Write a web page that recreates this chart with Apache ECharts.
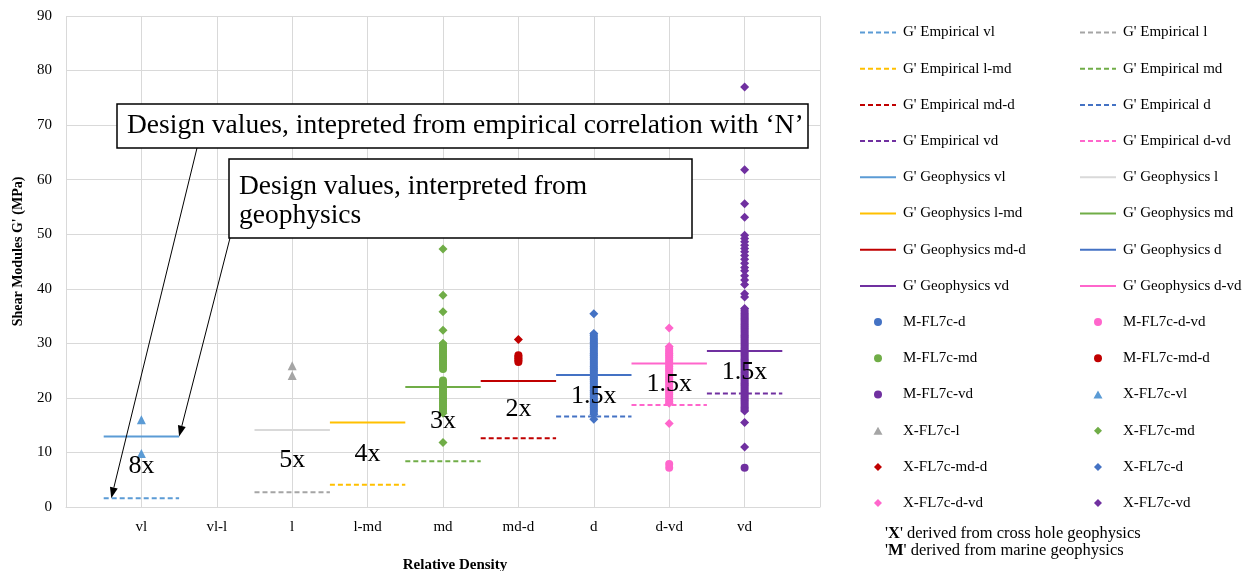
<!DOCTYPE html>
<html>
<head>
<meta charset="utf-8">
<script src="https://cdn.jsdelivr.net/npm/echarts@6/dist/echarts.min.js"></script>
<style>html,body{margin:0;padding:0;background:#fff;}#main{width:1248px;height:571px;}</style>
</head>
<body>
<div id="main"></div>
<script>
// ---------- data ----------
const cats = ['vl', 'vl-l', 'l', 'l-md', 'md', 'md-d', 'd', 'd-vd', 'vd'];
const designCats = ['vl', 'l', 'l-md', 'md', 'md-d', 'd', 'vd', 'd-vd'];
const empiricalVals = [1.6, 2.7, 4.1, 8.4, 12.6, 16.6, 20.8, 18.7];
const geophysicsVals = [12.9, 14.1, 15.5, 22.0, 23.1, 24.2, 28.6, 26.3];

const mFL7c_d = [17.4, 17.8, 18.2, 18.6, 19.0, 19.4, 19.8, 20.2, 20.6, 21.0, 21.4, 21.8, 22.2, 22.6, 23.0, 23.4, 23.8, 24.2, 24.6, 25.0, 25.4, 25.8, 26.2, 26.6, 27.0, 27.4, 27.8, 28.2, 28.6, 29.0, 29.4, 29.8, 30.2, 30.6, 31.0, 31.5];
const mFL7c_dvd = [7.2, 7.9, 19.4, 19.8, 20.2, 20.6, 21.0, 21.4, 21.8, 22.2, 22.6, 23.0, 23.4, 23.8, 24.2, 24.6, 25.0, 25.4, 25.8, 26.2, 26.6, 27.0, 27.4, 27.8, 28.2, 28.6, 29.0];
const mFL7c_md = [17.6, 18.0, 18.4, 18.8, 19.2, 19.6, 20.0, 20.4, 20.8, 21.2, 21.6, 22.0, 22.4, 22.8, 23.2, 25.3, 25.7, 26.1, 26.5, 26.9, 27.3, 27.7, 28.1, 28.5, 28.9, 29.3, 29.7];
const mFL7c_mdd = [26.6, 26.9, 27.2, 27.5, 27.8];
const mFL7c_vd = [7.2, 17.9, 18.3, 18.7, 19.1, 19.5, 19.9, 20.3, 20.7, 21.1, 21.5, 21.9, 22.3, 22.7, 23.1, 23.5, 23.9, 24.3, 24.7, 25.1, 25.5, 25.9, 26.3, 26.7, 27.1, 27.5, 27.9, 28.3, 28.7, 29.1, 29.5, 29.9, 30.3, 30.7, 31.1, 31.5, 31.9, 32.3, 32.7, 33.1, 33.5, 33.9, 34.3, 34.7, 35.1, 35.5, 36.0];
const xFL7c_vl = [16.0, 9.8];
const xFL7c_l = [25.9, 24.1];
const xFL7c_md = [47.3, 38.8, 35.8, 32.4, 30.0, 17.2, 11.8];
const xFL7c_mdd = [30.7];
const xFL7c_d = [35.4, 31.8, 17.0, 16.1];
const xFL7c_dvd = [32.8, 29.4, 19.0, 15.3];
const xFL7c_vd = [77.0, 61.8, 55.6, 53.1, 49.8, 49.2, 48.6, 48.0, 47.4, 46.8, 46.1, 45.4, 44.7, 43.9, 43.3, 42.4, 41.6, 40.8, 39.1, 38.5, 36.4, 17.6, 15.5, 11.0];

const multCats = ['vl', 'l', 'l-md', 'md', 'md-d', 'd', 'd-vd', 'vd'];
const multTexts = ['8x', '5x', '4x', '3x', '2x', '1.5x', '1.5x', '1.5x'];
const multY = [7.5, 8.6, 9.6, 15.7, 17.9, 20.3, 22.5, 24.7];

// ---------- styles ----------
const colors = {
  'vl': '#5B9BD5', 'vl-l': '#999999', 'l': '#A5A5A5', 'l-md': '#FFC000', 'md': '#70AD47',
  'md-d': '#C00000', 'd': '#4472C4', 'd-vd': '#FF66CC', 'vd': '#7030A0'
};
const geoColors = Object.assign({}, colors, { 'l': '#D9D9D9' });
const SERIF = '"Liberation Serif", "Times New Roman", serif';
const xOf = c => cats.indexOf(c) + 1;

// legend icons: shape centred in a 36x8 box (tiny edge anchors keep the box width)
const legendIcons = {
  circle: 'circle',
  triangle: 'path://M0,4L0.01,4Z M36,4L36.01,4Z M13.5,8L18,0L22.5,8Z',
  diamond: 'path://M0,4L0.01,4Z M36,4L36.01,4Z M18,-0.5L22.5,4L18,8.5L13.5,4Z'
};

const series = [];
const legendItems = [];
const hiddenSym = { color: 'rgba(0,0,0,0)', borderColor: 'rgba(0,0,0,0)', borderWidth: 0, opacity: 0 };

designCats.forEach((c, i) => {
  const name = "G' Empirical " + c;
  legendItems.push({ name, itemStyle: hiddenSym });
  series.push({
    name, type: 'line', symbol: 'none', z: 3, silent: true,
    data: [[xOf(c) - 0.5, empiricalVals[i]], [xOf(c) + 0.5, empiricalVals[i]]],
    lineStyle: { color: colors[c], width: 2, type: [5, 3] },
    itemStyle: { color: colors[c] }
  });
});
designCats.forEach((c, i) => {
  const name = "G' Geophysics " + c;
  legendItems.push({ name, itemStyle: hiddenSym });
  series.push({
    name, type: 'line', symbol: 'none', z: 3, silent: true,
    data: [[xOf(c) - 0.5, geophysicsVals[i]], [xOf(c) + 0.5, geophysicsVals[i]]],
    lineStyle: { color: geoColors[c], width: 2, type: 'solid' },
    itemStyle: { color: geoColors[c] }
  });
});

const scatterDefs = [
  ['M-FL7c-d', 'd', mFL7c_d, 'circle', 8],
  ['M-FL7c-d-vd', 'd-vd', mFL7c_dvd, 'circle', 8],
  ['M-FL7c-md', 'md', mFL7c_md, 'circle', 8],
  ['M-FL7c-md-d', 'md-d', mFL7c_mdd, 'circle', 8],
  ['M-FL7c-vd', 'vd', mFL7c_vd, 'circle', 8],
  ['X-FL7c-vl', 'vl', xFL7c_vl, 'triangle', 9],
  ['X-FL7c-l', 'l', xFL7c_l, 'triangle', 9],
  ['X-FL7c-md', 'md', xFL7c_md, 'diamond', 9],
  ['X-FL7c-md-d', 'md-d', xFL7c_mdd, 'diamond', 9],
  ['X-FL7c-d', 'd', xFL7c_d, 'diamond', 9],
  ['X-FL7c-d-vd', 'd-vd', xFL7c_dvd, 'diamond', 9],
  ['X-FL7c-vd', 'vd', xFL7c_vd, 'diamond', 9]
];
scatterDefs.forEach(([name, c, vals, sym, size]) => {
  legendItems.push({ name, icon: legendIcons[sym] });
  series.push({
    name, type: 'scatter', symbol: sym, symbolSize: size, z: 2, silent: true,
    data: vals.map(v => [xOf(c), v]),
    itemStyle: { color: colors[c], opacity: 1 }
  });
});

const leftItems = legendItems.filter((n, i) => i % 2 === 0);
const rightItems = legendItems.filter((n, i) => i % 2 === 1);
const legendBase = {
  orient: 'vertical', itemWidth: 36, itemHeight: 8, itemGap: 21.2,
  textStyle: { fontFamily: SERIF, fontSize: 15, color: '#000', lineHeight: 14, padding: [0, 0, 0, 2] },
  selectedMode: false
};

const chart = echarts.init(document.getElementById('main'), null, { renderer: 'canvas' });
chart.setOption({
  animation: false,
  backgroundColor: '#fff',
  grid: { left: 66, right: 428, top: 16, bottom: 64, containLabel: false, outerBoundsMode: 'none' },
  legend: [
    Object.assign({}, legendBase, { data: leftItems, left: 854, top: 20 }),
    Object.assign({}, legendBase, { data: rightItems, left: 1074, top: 20 })
  ],
  xAxis: {
    type: 'value', min: 0, max: 10, interval: 1,
    axisLine: { show: true, lineStyle: { color: '#D9D9D9' } },
    axisTick: { show: false },
    splitLine: { show: true, lineStyle: { color: '#D9D9D9', width: 1 } },
    axisLabel: {
      margin: 13, color: '#000', fontFamily: SERIF, fontSize: 15,
      formatter: v => cats[v - 1] || ''
    },
    name: 'Relative Density', nameLocation: 'middle', nameGap: 51,
    nameTextStyle: { fontFamily: SERIF, fontSize: 15, fontWeight: 'bold', color: '#000', padding: [0, 0, 0, 24] }
  },
  yAxis: {
    type: 'value', min: 0, max: 90, interval: 10,
    axisLine: { show: false }, axisTick: { show: false },
    splitLine: { show: true, lineStyle: { color: '#D9D9D9', width: 1 } },
    axisLabel: { margin: 14, color: '#000', fontFamily: SERIF, fontSize: 15 },
    name: "Shear Modules G' (MPa)", nameLocation: 'middle', nameGap: 41, nameRotate: 90,
    nameTextStyle: { fontFamily: SERIF, fontSize: 14, fontWeight: 'bold', color: '#000', padding: [0, 0, 0, 20] }
  },
  series
});

// ---------- annotations ----------
function arrow(start, end) {
  const dx = end[0] - start[0], dy = end[1] - start[1];
  const len = Math.hypot(dx, dy), ux = dx / len, uy = dy / len;
  const hl = 11, hw = 4;
  const bx = end[0] - ux * hl, by = end[1] - uy * hl;
  return [
    { type: 'line', z: 100, shape: { x1: start[0], y1: start[1], x2: bx, y2: by }, style: { stroke: '#000', lineWidth: 1 } },
    { type: 'polygon', z: 100, shape: { points: [end, [bx - uy * hw, by + ux * hw], [bx + uy * hw, by - ux * hw]] }, style: { fill: '#000' } }
  ];
}
const p1 = chart.convertToPixel({ gridIndex: 0 }, [xOf('vl') - 0.4, empiricalVals[0]]);
const p2 = chart.convertToPixel({ gridIndex: 0 }, [xOf('vl') + 0.5, geophysicsVals[0]]);
const richB = { b: { fontWeight: 'bold', fontFamily: SERIF, fontSize: 16.5 } };

const multGraphics = multCats.map((c, i) => {
  const p = chart.convertToPixel({ gridIndex: 0 }, [xOf(c), multY[i]]);
  return { type: 'text', z: 95, x: p[0], y: p[1], style: { text: multTexts[i], font: '26px ' + SERIF, fill: '#000', align: 'center', verticalAlign: 'middle' } };
});

chart.setOption({
  graphic: [
    ...multGraphics,
    { type: 'rect', z: 90, shape: { x: 117, y: 104, width: 691, height: 44 }, style: { fill: '#fff', stroke: '#000', lineWidth: 1.5 } },
    { type: 'text', z: 91, x: 127, y: 126, style: { text: 'Design values, intepreted from empirical correlation with \u2018N\u2019', font: '27.5px ' + SERIF, fill: '#000', verticalAlign: 'middle' } },
    { type: 'rect', z: 90, shape: { x: 229, y: 159, width: 463, height: 79 }, style: { fill: '#fff', stroke: '#000', lineWidth: 1.5 } },
    { type: 'text', z: 91, x: 239, y: 172, style: { text: 'Design values, interpreted from\ngeophysics', font: '27.5px ' + SERIF, lineHeight: 29, fill: '#000', verticalAlign: 'top' } },
    ...arrow([197, 148], p1),
    ...arrow([230, 238], p2),
    { type: 'text', z: 91, x: 885, y: 534, style: { text: "'{b|X}' derived from cross hole geophysics", font: '16.5px ' + SERIF, fill: '#000', verticalAlign: 'middle', rich: richB } },
    { type: 'text', z: 91, x: 885, y: 551, style: { text: "'{b|M}' derived from marine geophysics", font: '16.5px ' + SERIF, fill: '#000', verticalAlign: 'middle', rich: richB } }
  ]
});
</script>
</body>
</html>
